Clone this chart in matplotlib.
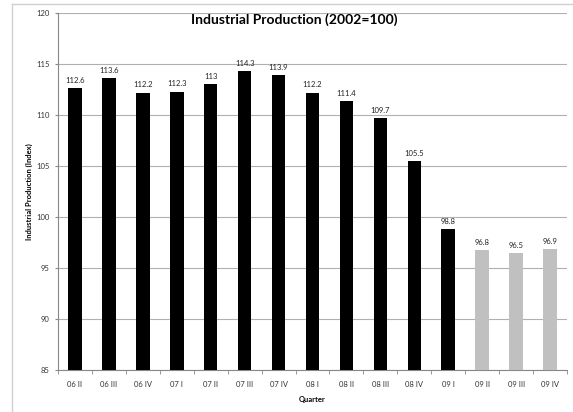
import matplotlib
matplotlib.use("Agg")
import matplotlib.pyplot as plt
from matplotlib.lines import Line2D

quarters = ["06 II", "06 III", "06 IV", "07 I", "07 II", "07 III", "07 IV",
            "08 I", "08 II", "08 III", "08 IV", "09 I", "09 II", "09 III", "09 IV"]
values = [112.6, 113.6, 112.2, 112.3, 113, 114.3, 113.9,
          112.2, 111.4, 109.7, 105.5, 98.8, 96.8, 96.5, 96.9]
labels = ["112.6", "113.6", "112.2", "112.3", "113", "114.3", "113.9",
          "112.2", "111.4", "109.7", "105.5", "98.8", "96.8", "96.5", "96.9"]
forecast = [False]*12 + [True]*3

plt.rcParams['font.family'] = ['Lato', 'DejaVu Sans']

fig = plt.figure(figsize=(5.73, 4.12), dpi=100)
fig.patch.set_facecolor("white")
# outer chart border (only left and top visible)
fig.add_artist(Line2D([12/573, 12/573], [0, 1-4/412], transform=fig.transFigure,
                      color="#d0d0d0", linewidth=1.0))
fig.add_artist(Line2D([12/573, 1], [1-4/412, 1-4/412], transform=fig.transFigure,
                      color="#d0d0d0", linewidth=1.0))

ax = fig.add_axes([58/573, 1-370/412, (567-58)/573, (370-13)/412])
x = list(range(len(quarters)))
colors = ["#c0c0c0" if f else "black" for f in forecast]
ax.bar(x, [v - 85 for v in values], bottom=85, width=0.4, color=colors, zorder=3)
for xi, v, l in zip(x, values, labels):
    ax.text(xi, v + 0.4, l, ha="center", va="bottom", fontsize=5.5, color="#222222")

ax.set_ylim(85, 120)
ax.set_xlim(-0.5, len(quarters) - 0.5)
ax.set_yticks(range(85, 121, 5))
ax.tick_params(axis="y", labelsize=5.5, length=2, color="#888888", colors="#333333", pad=4)
ax.set_xticks(x)
ax.set_xticklabels(quarters, fontsize=5.5, color="#333333")
ax.set_xticks([i + 0.5 for i in range(-1, len(quarters))], minor=True)
ax.tick_params(axis="x", which="major", length=0, pad=8)
ax.tick_params(axis="x", which="minor", length=3, color="#888888")
ax.grid(axis="y", color="#b0b0b0", linewidth=0.8, zorder=0)
for s in ["top", "right"]:
    ax.spines[s].set_visible(False)
ax.spines["left"].set_color("#888888")
ax.spines["bottom"].set_color("#888888")
ax.set_ylabel("Industrial Production (Index)", fontsize=5.5, fontweight="bold", labelpad=2)
ax.set_xlabel("Quarter", fontsize=5.5, fontweight="bold", labelpad=6)
fig.text(294/573, 1-20/412, "Industrial Production (2002=100)", ha="center", va="center",
         fontsize=10, fontweight="bold")

fig.savefig("out.png", dpi=100, facecolor="white")
